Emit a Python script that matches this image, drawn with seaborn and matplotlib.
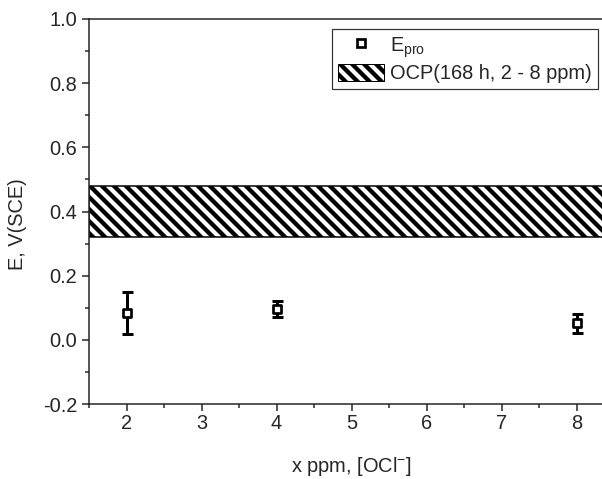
import matplotlib
matplotlib.use("Agg")
import matplotlib.pyplot as plt
import matplotlib.patches as mpatches
from matplotlib.lines import Line2D
from matplotlib.ticker import MultipleLocator
import seaborn as sns
import pandas as pd

# data
x_ppm = [2, 4, 8]
e_pro = [0.083, 0.097, 0.052]
e_err = [0.066, 0.025, 0.030]
ocp_low = 0.32
ocp_high = 0.48
xticks = [2, 3, 4, 5, 6, 7, 8]
yticks = [-0.2, 0.0, 0.2, 0.4, 0.6, 0.8, 1.0]

sns.set_style("ticks")
plt.rcParams['font.family'] = ['Liberation Sans', 'DejaVu Sans']
plt.rcParams['mathtext.fontset'] = 'custom'
plt.rcParams['mathtext.rm'] = 'Liberation Sans'
plt.rcParams['mathtext.it'] = 'Liberation Sans'
plt.rcParams['hatch.linewidth'] = 4.3

FS = 20
W, H = 602, 479
DPI = 72
fig = plt.figure(figsize=(W / DPI, H / DPI), dpi=DPI)
left, right, top, bottom = 89, 614, 19, 404
ax = fig.add_axes([left / W, 1 - bottom / H, (right - left) / W, (bottom - top) / H])

# hatched band
ax.axhspan(ocp_low, ocp_high, facecolor='white', edgecolor='black', hatch='\\\\', linewidth=1.5, zorder=1)

df = pd.DataFrame({"x": x_ppm, "E": e_pro, "err": e_err})
ax.errorbar(df["x"], df["E"], yerr=df["err"], fmt='none', ecolor='black', elinewidth=3,
            capsize=5.5, capthick=3, zorder=2)
sns.scatterplot(data=df, x="x", y="E", marker='s', s=64, facecolor='white', edgecolor='black',
                linewidth=2.7, ax=ax, zorder=3, legend=False)

ax.set_xlim(1.5, 8.5)
ax.set_ylim(-0.2, 1.0)
ax.set_xticks(xticks)
ax.set_xticklabels([str(v) for v in xticks])
ax.set_yticks(yticks)
ax.set_yticklabels([f"{v:.1f}" for v in yticks])
ax.xaxis.set_minor_locator(MultipleLocator(0.5))
ax.yaxis.set_minor_locator(MultipleLocator(0.1))
ax.tick_params(which='major', direction='out', length=7, width=1.5, labelsize=FS, color='#222222')
ax.tick_params(axis='y', which='major', pad=5)
ax.tick_params(axis='x', which='major', pad=3)
ax.tick_params(which='minor', direction='out', length=4, width=1.5, color='#222222')
for s in ax.spines.values():
    s.set_linewidth(1.5)
    s.set_color('#222222')

ax.set_xlabel(r"x ppm, [OCl$^{\mathregular{-}}$]", fontsize=FS)
ax.set_ylabel("E, V(SCE)", fontsize=FS)
ax.xaxis.label.set_va('baseline')
ax.xaxis.set_label_coords(0.5, -(472 - bottom) / (bottom - top))
ax.yaxis.label.set_va('center')
ax.yaxis.set_label_coords(-(left - 18) / (right - left), 1 - (224 - top) / (bottom - top))

h1 = Line2D([], [], marker='s', linestyle='none', markerfacecolor='white', markeredgecolor='black',
            markersize=7.5, markeredgewidth=2.7)
h2 = mpatches.Patch(facecolor='white', edgecolor='black', hatch='\\\\', linewidth=1)
leg = fig.legend([h1, h2], [r"E$_{\mathregular{pro}}$", "OCP(168 h, 2 - 8 ppm)"],
                 loc='upper left', bbox_to_anchor=(332 / W, 1 - 29 / H), bbox_transform=fig.transFigure,
                 borderaxespad=0, fontsize=FS, frameon=True, fancybox=False, edgecolor='#333333',
                 framealpha=1, handlelength=2.3, handleheight=1.0, handletextpad=0.3,
                 borderpad=0.3, labelspacing=0.2)
leg.get_frame().set_linewidth(1.2)

fig.savefig("out.png", dpi=DPI)
